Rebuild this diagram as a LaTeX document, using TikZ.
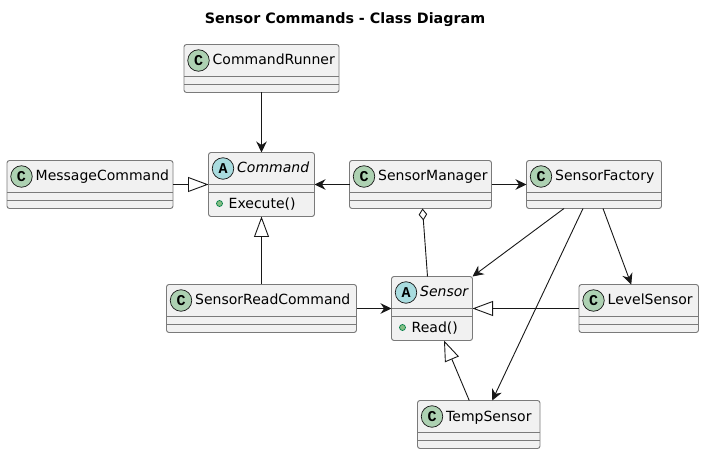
\documentclass[tikz,border=0pt]{standalone}
\usepackage{fontspec}
\setmainfont{DejaVu Sans}
\newfontfamily\glyphfont{Liberation Mono}
\usetikzlibrary{arrows.meta}
\definecolor{boxfill}{HTML}{F1F1F1}
\definecolor{boxline}{HTML}{7A7A7A}
\definecolor{ink}{HTML}{181818}
\definecolor{classgreen}{HTML}{ADD1B2}
\definecolor{abstractblue}{HTML}{A9DCDF}
\definecolor{dotfill}{HTML}{84BE84}
\definecolor{dotline}{HTML}{038048}
\tikzset{
  classbody/.style={draw=boxline,fill=boxfill,line width=0.9pt,rounded corners=2.5pt,inner sep=0pt,outer sep=0pt},
  divider/.style={draw=boxline,line width=0.9pt},
  badge/.style={circle,draw=ink,line width=0.7pt,minimum size=21.5pt,inner sep=0pt,font=\glyphfont\bfseries\fontsize{15}{15}\selectfont,text=black},
  label/.style={anchor=base west,inner sep=0pt,font=\fontsize{14}{16}\selectfont,text=black},
  memberdot/.style={circle,draw=dotline,fill=dotfill,line width=0.7pt,minimum size=6pt,inner sep=0pt},
  assoc/.style={draw=ink,line width=0.9pt,-{Stealth[length=11pt,width=10.5pt,inset=3.6pt,color=ink]}},
  inherit/.style={draw=ink,line width=0.9pt,-{Triangle[open,length=20.5pt,width=15pt,fill=white,color=ink]}},
  aggreg/.style={draw=ink,line width=0.9pt,-{Diamond[open,length=12pt,width=8.5pt,fill=white,color=ink]}},
}
% name, left, top, width, height, badge colour, letter, label text
\newcommand{\classnode}[8]{%
  \node[classbody,minimum width=#4pt,minimum height=#5pt] (#1) at ({#2+#4/2},{#3+#5/2}) {};
  \node[badge,fill=#6] (#1badge) at ({#2+14.5},{#3+16}) {#7};
  \node[label] (#1label) at ({#2+28.5},{#3+20.5}) {#8};
  \draw[divider] ({#2},{#3+32}) -- ({#2+#4},{#3+32});
  \draw[divider] ({#2},{#3+40}) -- ({#2+#4},{#3+40});
}
\newcommand{\membernode}[5]{% name, left, top, id, text
  \node[memberdot] (#4dot) at ({#2+11},{#3+51}) {};
  \node[label] (#4) at ({#2+20},{#3+56}) {#5};
}
\begin{document}
\begin{tikzpicture}[x=1pt,y=-1pt]
\useasboundingbox (0,0) rectangle (704,454);
\fill[white] (0,0) rectangle (704,454);
\node[anchor=base,inner sep=0pt,font=\bfseries\fontsize{14.3}{16}\selectfont] (title) at (345,23.5) {Sensor Commands - Class Diagram};

\classnode{runner}{184}{44.5}{155}{48}{classgreen}{C}{CommandRunner}
\classnode{message}{7}{160.5}{166}{48}{classgreen}{C}{MessageCommand}
\classnode{command}{208.5}{152.5}{106}{64}{abstractblue}{A}{\textit{Command}}
\membernode{command}{208.5}{152.5}{execute}{Execute()}
\classnode{manager}{349.5}{160.5}{142}{48}{classgreen}{C}{SensorManager}
\classnode{factory}{526.5}{160.5}{135}{48}{classgreen}{C}{SensorFactory}
\classnode{readcmd}{166.5}{284.5}{190}{48}{classgreen}{C}{SensorReadCommand}
\classnode{sensor}{391.5}{276.5}{81}{64}{abstractblue}{A}{\textit{Sensor}}
\membernode{sensor}{391.5}{276.5}{read}{Read()}
\classnode{level}{579}{284.5}{119.5}{48}{classgreen}{C}{LevelSensor}
\classnode{temp}{417.5}{400.5}{122.5}{48}{classgreen}{C}{TempSensor}

\draw[assoc] (runner.south) -- (command.north);
\draw[inherit] (message.east) -- (command.west);
\draw[inherit] (readcmd.north) -- (command.south);
\draw[assoc] (manager.west) -- (command.east);
\draw[assoc] (manager.east) -- (factory.west);
\draw[assoc] (readcmd.east) -- (sensor.west);
\draw[aggreg] ([xshift=-4.5pt]sensor.north) -- ([xshift=2pt]manager.south);
\draw[assoc] ([xshift=-30pt]factory.south) -- (sensor.north east);
\draw[assoc] ([xshift=9pt]factory.south) -- ([xshift=-7.5pt]level.north);
\draw[assoc] ([xshift=-11pt]factory.south) -- ([xshift=13.5pt]temp.north);
\draw[inherit] (level.west) -- (sensor.east);
\draw[inherit] ([xshift=-9.5pt]temp.north) -- ([xshift=12pt]sensor.south);
\end{tikzpicture}
\end{document}
